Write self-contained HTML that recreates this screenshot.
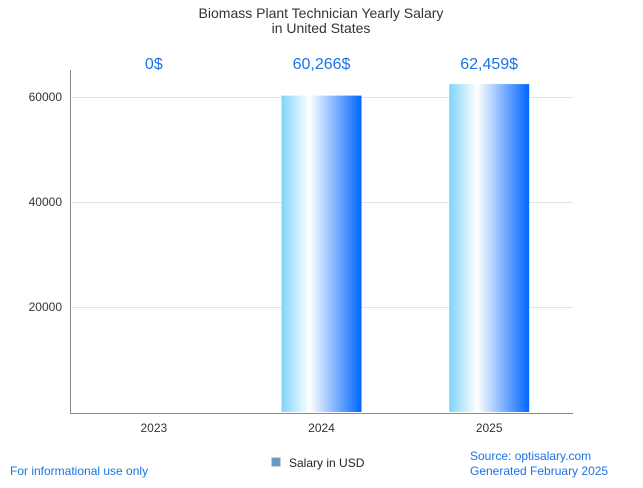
<!DOCTYPE html>
<html><head><meta charset="utf-8"><style>
body{margin:0;background:#fff;font-family:"Liberation Sans",sans-serif}
</style></head><body>
<svg id="c" width="643" height="483" viewBox="0 0 643 483">
<defs><linearGradient id="g" x1="0" x2="1" y1="0" y2="0">
<stop offset="0" stop-color="#7fd4fb"/><stop offset="0.35" stop-color="#ffffff"/><stop offset="1" stop-color="#0066ff"/></linearGradient></defs>
<text x="321" y="18" text-anchor="middle" font-size="14" fill="#333">Biomass Plant Technician Yearly Salary</text>
<text x="321" y="33" text-anchor="middle" font-size="14" fill="#333">in United States</text>
<g id="grid"></g><g id="bars"></g>
<line x1="70.5" y1="70" x2="70.5" y2="413" stroke="#888"/>
<line x1="70" y1="413.5" x2="573" y2="413.5" stroke="#888"/>
<rect x="272" y="458" width="8" height="8" fill="#5b9bd5" stroke="#999"/>
<text x="289" y="467" font-size="12" fill="#222">Salary in USD</text>
<text x="10" y="475" font-size="12" fill="#1a73e8">For informational use only</text>
<text x="470" y="460" font-size="12" fill="#1a73e8">Source: optisalary.com</text>
<text x="470" y="475" font-size="12" fill="#1a73e8">Generated February 2025</text>
</svg>
<script>
const categories=["2023","2024","2025"];
const values=[0,60266,62459];
const labels=["0$","60,266$","62,459$"];
const yTicks=[20000,40000,60000];
const NS="http://www.w3.org/2000/svg";
const x0=70,x1=573,y0=412,yMax=65143,yTop=70;
const y=v=>y0-v/yMax*(y0-yTop);
const band=(x1-x0)/categories.length;
const xc=i=>x0+band*(i+0.5);
const grid=document.getElementById('grid'),bars=document.getElementById('bars');
function mk(t,a,p){const e=document.createElementNS(NS,t);for(const k in a)e.setAttribute(k,a[k]);p.appendChild(e);return e;}
yTicks.forEach(v=>{
 const l=mk('line',{x1:x0,x2:x1,y1:Math.round(y(v))+0.5,y2:Math.round(y(v))+0.5,stroke:'#e3e3e3'},grid);
 
 
 const t=mk('text',{x:x0-8,y:y(v)+4,'text-anchor':'end','font-size':12,fill:'#333'},grid);t.textContent=v;
 
 
});
categories.forEach((c,i)=>{
 const t=mk('text',{x:xc(i),y:432,'text-anchor':'middle','font-size':12,fill:'#333'},bars);t.textContent=c;
 
 
 if(values[i]>0){const r=mk('rect',{x:xc(i)-40,y:y(values[i]),width:80,height:y0-y(values[i]),fill:'url(#g)'},bars);
 
 }
 const v=mk('text',{x:xc(i),y:69,'text-anchor':'middle','font-size':16,fill:'#1a73e8'},bars);v.textContent=labels[i];
 
 
});
</script>
</body></html>
